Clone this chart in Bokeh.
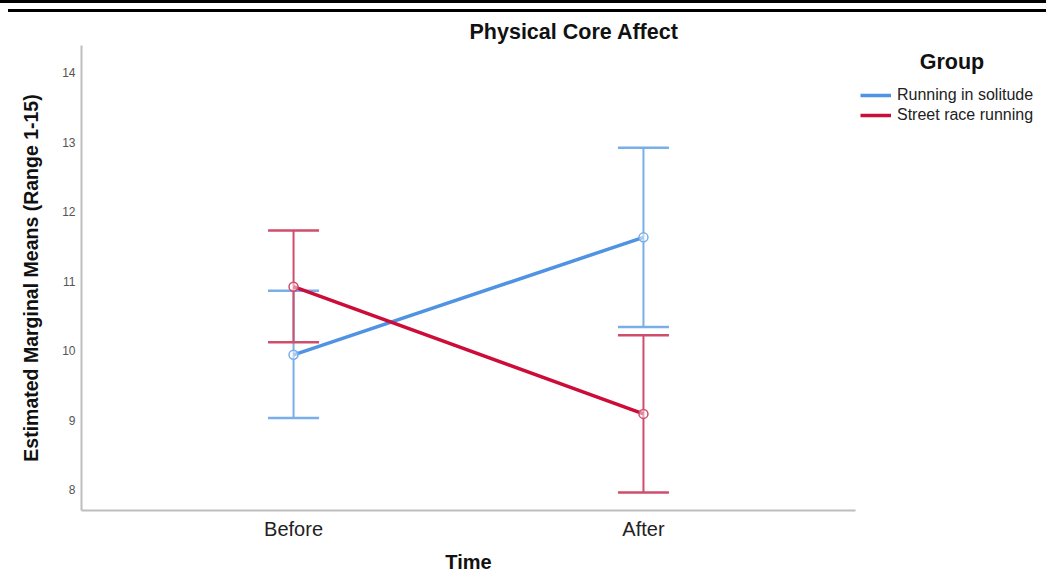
from bokeh.plotting import figure
from bokeh.models import (FactorRange, Range1d, ColumnDataSource, Whisker, TeeHead,
                          Legend, LegendItem)
from bokeh.embed import file_html
from bokeh.resources import INLINE

# ---- data ----
chart_title = "Physical Core Affect"
legend_title = "Group"
times = ["Before", "After"]
groups = ["Running in solitude", "Street race running"]
solitude_mean = [9.94, 11.63]
solitude_lower = [9.03, 10.34]
solitude_upper = [10.86, 12.92]
street_mean = [10.92, 9.09]
street_lower = [10.12, 7.96]
street_upper = [11.73, 10.22]
y_ticks = [8, 9, 10, 11, 12, 13, 14]

FONT = "Liberation Sans"

p = figure(frame_width=774, frame_height=465, output_backend="svg", toolbar_location=None,
           x_range=FactorRange(*times, range_padding=0.106, range_padding_units="absolute"),
           y_range=Range1d(7.70, 14.39),
           min_border_left=81, min_border_right=0, min_border_top=45, min_border_bottom=65)
p.outline_line_color = None
p.grid.visible = False
p.background_fill_color = "white"
p.border_fill_alpha = 0
# the black screenshot border lines at the top of the chart
p.styles = {
    "background-color": "white",
    "box-shadow": ("inset 0 3px 0 0 #000, inset 0 9px 0 0 #fff, inset 8px 0 0 0 #fff, "
                   "inset 0 12px 0 0 #000"),
}

# title
p.title.text = chart_title
p.title.align = "left"
p.title.offset = 388
p.title.standoff = 4
p.title.text_font = FONT
p.title.text_font_size = "21.5px"
p.title.text_font_style = "bold"
p.title.text_color = "#111111"

# axes
for ax in (p.xaxis, p.yaxis):
    ax.axis_line_color = "#bdbdbd"
    ax.axis_line_width = 2
    ax.major_tick_line_color = None
    ax.minor_tick_line_color = None
    ax.major_label_text_font = FONT
    ax.axis_label_text_font = FONT
    ax.axis_label_text_font_style = "bold"
    ax.axis_label_text_color = "#111111"

p.xaxis.axis_label = "Time"
p.xaxis.axis_label_text_font_size = "20px"
p.xaxis.major_label_text_font_size = "20px"
p.xaxis.major_label_text_color = "#222222"
p.xaxis.major_label_standoff = 1
p.xaxis.axis_label_standoff = 8

p.yaxis.axis_label = "Estimated Marginal Means (Range 1-15)"
p.yaxis.axis_label_text_font_size = "19.5px"
p.yaxis.ticker = y_ticks
p.yaxis.major_label_text_font_size = "12px"
p.yaxis.major_label_text_color = "#555555"
p.yaxis.major_label_standoff = 0
p.yaxis.axis_label_standoff = 17

series = [
    (groups[0], solitude_mean, solitude_lower, solitude_upper, "#4f93e2", "#78aee9"),
    (groups[1], street_mean, street_lower, street_upper, "#cc0c39", "#d04d6c"),
]

items = []
for name, mean, lower, upper, col, ecol in series:
    src = ColumnDataSource(dict(time=times, mean=mean, lower=lower, upper=upper))
    w = Whisker(base="time", upper="upper", lower="lower", source=src, dimension="height",
                line_color=ecol, line_width=2,
                upper_head=TeeHead(size=51, line_color=ecol, line_width=2.5),
                lower_head=TeeHead(size=51, line_color=ecol, line_width=2.5))
    p.add_layout(w)
    ln = p.line("time", "mean", source=src, line_color=col, line_width=3.5)
    p.scatter("time", "mean", source=src, size=9, line_color=ecol, fill_color="white",
              fill_alpha=0.5, line_width=1.5)
    items.append(LegendItem(label=name, renderers=[ln]))

legend = Legend(items=items, location="top_left", margin=5, padding=0, spacing=0,
                title="\u00a0" * 10 + legend_title, title_text_font=FONT,
                title_text_font_size="21.5px", title_text_font_style="bold",
                title_text_color="#111111", title_standoff=10,
                glyph_width=31, glyph_height=20, label_height=20, label_standoff=6,
                label_text_font=FONT, label_text_font_size="16px",
                label_text_color="#222222",
                border_line_color=None, background_fill_alpha=0)
p.add_layout(legend, "right")

open("out.html", "w").write(file_html(p, INLINE))
